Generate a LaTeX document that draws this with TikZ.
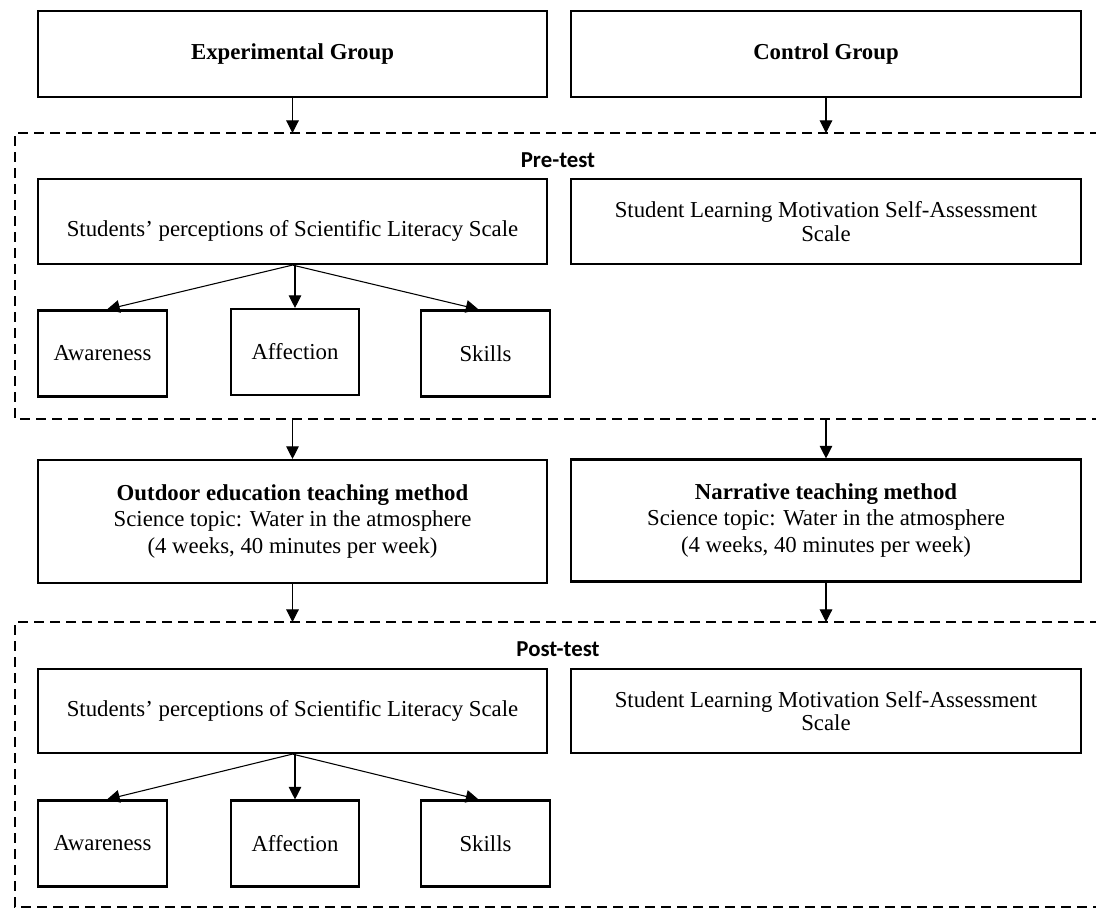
\documentclass[tikz,border=0pt]{standalone}
\usepackage{fontspec}
\setmainfont{Liberation Serif}
\newfontfamily\labfont{Carlito}
\usetikzlibrary{arrows.meta,calc}
\begin{document}
\begin{tikzpicture}[x=0.75pt,y=-0.75pt,
  every node/.style={font=\fontsize{17.1}{20}\selectfont},
  box/.style={draw,line width=1.6pt,inner sep=0pt,align=center},
  wide/.style={box,minimum width=382pt},
  small/.style={box,minimum width=96.5pt,minimum height=64.5pt},
  twoline/.style={font=\fontsize{17.1}{17.5}\selectfont},
  arr/.style={line width=0.8pt,-{Triangle[length=9.5pt,width=9.5pt]}},
  dashbox/.style={line width=1.7pt,dash pattern=on 7.5pt off 4.5pt},
  lab/.style={font=\labfont\bfseries\fontsize{17.1}{20}\selectfont}]
\clip (0,0) rectangle (1096,908);
\fill[white] (0,0) rectangle (1096,908);

% top group boxes
\node[wide,minimum height=64.5pt] (exp) at (292.5,54) {\textbf{Experimental Group}};
\node[wide,minimum height=64.5pt] (ctl) at (826,54) {\textbf{Control Group}};

% pre-test frame
\coordinate (pretop) at (15,133);
\coordinate (prebot) at (15,419);
\draw[dashbox] (1100,133) -- (pretop) -- (prebot) -- (1100,419);
\node[lab] (prelab) at (558,160) {Pre-test};

\node[wide,minimum height=63.75pt,text height=24pt,text depth=2pt] (spsl1) at (292.5,221.5) {Students’ perceptions of Scientific Literacy Scale};
\node[wide,minimum height=63.75pt,twoline] (slms1) at (826,221.5) {Student Learning Motivation Self-Assessment\\Scale};
\node[small] (aw1) at (102.5,353.5) {Awareness};
\node[small] (af1) at (295,352) {Affection};
\node[small] (sk1) at (485.5,353.5) {Skills};

% methods
\node[wide,minimum height=92.25pt] (outd) at (292.5,521.5) {\textbf{Outdoor education teaching method}\\Science topic: Water in the atmosphere\\(4 weeks, 40 minutes per week)};
\node[wide,minimum height=91.5pt] (narr) at (826,520.5) {\textbf{Narrative teaching method}\\Science topic: Water in the atmosphere\\(4 weeks, 40 minutes per week)};

% post-test frame
\coordinate (posttop) at (15,622);
\coordinate (postbot) at (15,907);
\draw[dashbox] (1100,622) -- (posttop) -- (postbot) -- (1100,907);
\node[lab] (postlab) at (558,649) {Post-test};

\node[wide,minimum height=63pt] (spsl2) at (292.5,711) {Students’ perceptions of Scientific Literacy Scale};
\node[wide,minimum height=63pt,twoline] (slms2) at (826,711) {Student Learning Motivation Self-Assessment\\Scale};
\node[small] (aw2) at (102.5,843.5) {Awareness};
\node[small] (af2) at (295,843.5) {Affection};
\node[small] (sk2) at (485.5,843.5) {Skills};

% connectors
\draw[arr] (exp.south) -- (exp.south |- pretop);
\draw[arr] (ctl.south) -- (ctl.south |- pretop);
\draw[arr] (spsl1.south) -- ($(aw1.north)+(4.5,0)$);
\draw[arr] (af1.north |- spsl1.south) -- (af1.north);
\draw[arr] (spsl1.south) -- ($(sk1.north)+(-7,0)$);
\draw[arr] (outd.north |- prebot) -- (outd.north);
\draw[arr] (narr.north |- prebot) -- (narr.north);
\draw[arr] (outd.south) -- (outd.south |- posttop);
\draw[arr] (narr.south) -- (narr.south |- posttop);
\draw[arr] (spsl2.south) -- ($(aw2.north)+(4.5,0)$);
\draw[arr] (af2.north |- spsl2.south) -- (af2.north);
\draw[arr] (spsl2.south) -- ($(sk2.north)+(-7,0)$);
\end{tikzpicture}
\end{document}
